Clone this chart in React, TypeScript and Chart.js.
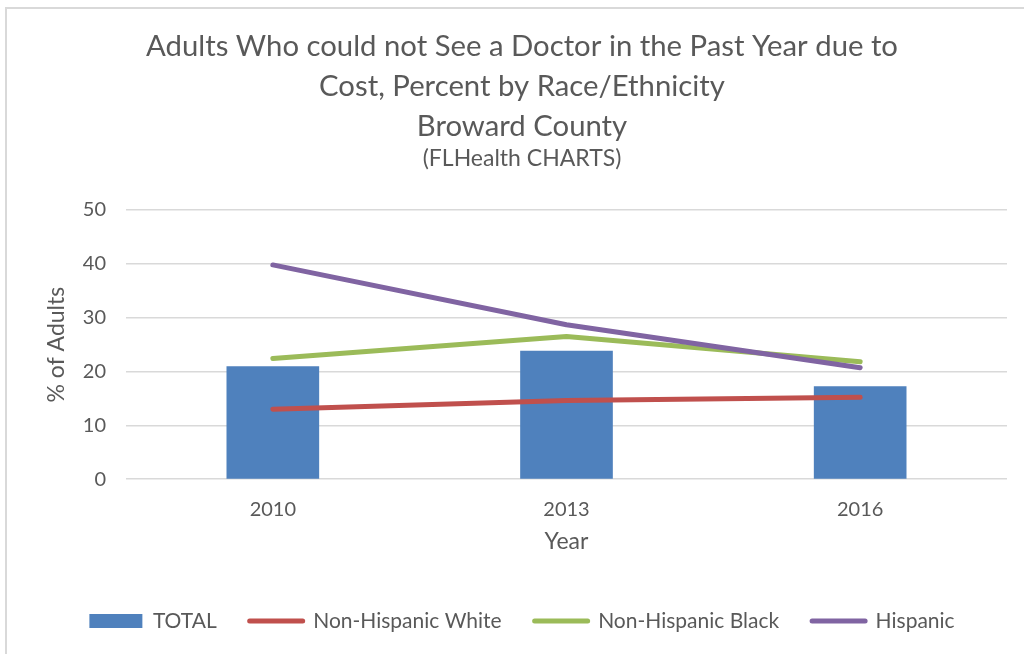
import React, { useEffect, useRef } from "react";
import { Chart, registerables } from "chart.js";

Chart.register(...registerables);

const years = ["2010", "2013", "2016"];
const totalValues = [20.9, 23.8, 17.2];
const whiteValues = [13.0, 14.6, 15.2];
const blackValues = [22.4, 26.5, 21.8];
const hispanicValues = [39.8, 28.7, 20.7];
const titleLines = [
  "Adults Who could not See a Doctor in the Past Year due to",
  "Cost, Percent by Race/Ethnicity",
  "Broward County",
];
const subtitleText = "(FLHealth CHARTS)";

const FONT = "Lato, 'Open Sans', sans-serif";
const GRAY = "#595959";

export default function App() {
  const ref = useRef<HTMLCanvasElement | null>(null);

  useEffect(() => {
    if (!ref.current) return;
    const chart = new Chart(ref.current, {
      type: "bar",
      data: {
        labels: years,
        datasets: [
          {
            type: "bar",
            label: "TOTAL",
            data: totalValues,
            backgroundColor: "#4F81BD",
            borderColor: "#4F81BD",
            barThickness: 92,
            order: 4,
          },
          {
            type: "line",
            label: "Non-Hispanic White",
            data: whiteValues,
            borderColor: "#C0504D",
            backgroundColor: "#C0504D",
            borderWidth: 5,
            pointRadius: 0,
            borderCapStyle: "round",
            borderJoinStyle: "round",
            order: 3,
          },
          {
            type: "line",
            label: "Non-Hispanic Black",
            data: blackValues,
            borderColor: "#9BBB59",
            backgroundColor: "#9BBB59",
            borderWidth: 5,
            pointRadius: 0,
            borderCapStyle: "round",
            borderJoinStyle: "round",
            order: 2,
          },
          {
            type: "line",
            label: "Hispanic",
            data: hispanicValues,
            borderColor: "#8064A2",
            backgroundColor: "#8064A2",
            borderWidth: 5,
            pointRadius: 0,
            borderCapStyle: "round",
            borderJoinStyle: "round",
            order: 1,
          },
        ],
      },
      options: {
        animation: false,
        responsive: false,
        devicePixelRatio: 1,
        layout: { padding: { left: 37, right: 17, top: 0, bottom: 12.5 } },
        plugins: {
          tooltip: { enabled: false },
          title: {
            display: true,
            text: titleLines,
            color: GRAY,
            font: { family: FONT, size: 29.3, weight: "normal", lineHeight: 40 / 29.3 },
            padding: { top: 27, bottom: 0 },
          },
          subtitle: {
            display: true,
            text: subtitleText,
            color: GRAY,
            font: { family: FONT, size: 23, weight: "normal", lineHeight: 1.0 },
            padding: { top: 0, bottom: 40 },
          },
          legend: {
            position: "bottom",
            align: "center",
            labels: {
              color: GRAY,
              font: { family: FONT, size: 21 },
              usePointStyle: true,
              pointStyleWidth: 53,
              boxHeight: 14,
              padding: 33,
              generateLabels: (c: any) =>
                c.data.datasets.map((ds: any, i: number) => ({
                  text: ds.label,
                  fillStyle: ds.backgroundColor,
                  strokeStyle: ds.borderColor,
                  lineWidth: i === 0 ? 0 : 5,
                  lineCap: "round",
                  pointStyle: i === 0 ? "rect" : "line",
                  hidden: false,
                  datasetIndex: i,
                  fontColor: GRAY,
                })),
            },
          },
        },
        scales: {
          x: {
            offset: true,
            grid: { display: false, drawTicks: false },
            border: { display: false },
            ticks: { color: GRAY, font: { family: FONT, size: 20 }, padding: 18 },
            title: {
              display: true,
              text: "Year",
              color: GRAY,
              font: { family: FONT, size: 23 },
              padding: { top: -11, bottom: 21.7 },
            },
          },
          y: {
            min: 0,
            max: 50,
            ticks: { stepSize: 10, color: GRAY, font: { family: FONT, size: 20 }, padding: 20 },
            grid: { color: "#d9d9d9", lineWidth: 1.5, drawTicks: false },
            border: { display: false },
            title: {
              display: true,
              text: "% of Adults",
              color: GRAY,
              font: { family: FONT, size: 23 },
              padding: { top: 6, bottom: 0 },
            },
            afterFit: (scale: any) => {
              scale.width = 89;
            },
          },
        },
      },
    });
    return () => chart.destroy();
  }, []);

  return (
    <div style={{ position: "fixed", left: 0, top: 0, width: 1024, height: 654, background: "#fff", overflow: "hidden" }}>
      <div
        style={{
          position: "absolute",
          left: 5,
          top: 7,
          width: 1040,
          height: 660,
          border: "2px solid #d9d9d9",
          boxSizing: "border-box",
        }}
      />
      <canvas ref={ref} width={1024} height={654} style={{ position: "absolute", left: 0, top: 0, width: 1024, height: 654 }} />
    </div>
  );
}
